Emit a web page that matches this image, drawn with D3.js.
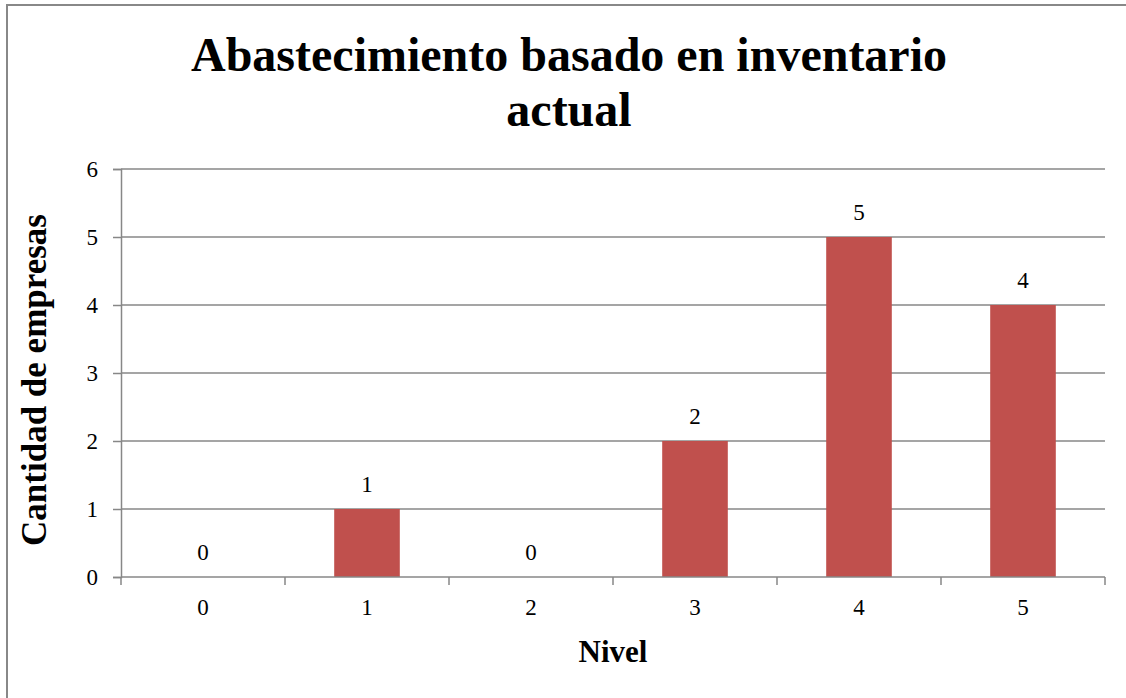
<!DOCTYPE html>
<html>
<head>
<meta charset="utf-8">
<script src="https://cdn.jsdelivr.net/npm/d3@7"></script>
<style>
  html, body { margin: 0; padding: 0; background: #fff; }
  svg { display: block; }
  svg text { font-family: 'Liberation Serif', 'Times New Roman', serif; fill: #000; }
</style>
</head>
<body>
<svg id="chart" width="1126" height="698"></svg>
<script>
// Chart data
const categories = ["0", "1", "2", "3", "4", "5"];
const empresas = [0, 1, 0, 2, 5, 4];
const yTicks = [0, 1, 2, 3, 4, 5, 6];
const titleLines = ["Abastecimiento basado en inventario", "actual"];
const xTitle = "Nivel";
const yTitle = "Cantidad de empresas";

const svg = d3.select("#chart");
const plot = { left: 121, right: 1105, top: 169, bottom: 577 };
const gridColor = "#878787";
const barColor = "#C0504D";
const serif = "'Liberation Serif', 'Times New Roman', serif";

// Outer chart frame
svg.append("rect")
  .attr("x", 7).attr("y", 5)
  .attr("width", 1124).attr("height", 700)
  .attr("fill", "#fff")
  .attr("stroke", "#888").attr("stroke-width", 2);

// Scales
const xBand = d3.scaleBand().domain(categories).range([plot.left, plot.right]).padding(0);
const xBar = d3.scaleBand().domain(categories).range([plot.left, plot.right])
  .paddingInner(0.6).paddingOuter(0.3);
const y = d3.scaleLinear().domain([0, 6]).range([plot.bottom, plot.top]);

// Horizontal gridlines
svg.append("g").selectAll("line").data(yTicks.filter(d => d > 0)).join("line")
  .attr("x1", plot.left).attr("x2", plot.right)
  .attr("y1", d => y(d)).attr("y2", d => y(d))
  .attr("stroke", gridColor).attr("stroke-width", 1.5);

// Bars
svg.append("g").selectAll("rect").data(categories).join("rect")
  .attr("x", c => xBar(c))
  .attr("width", xBar.bandwidth())
  .attr("y", (c, i) => y(empresas[i]))
  .attr("height", (c, i) => y(0) - y(empresas[i]))
  .attr("fill", barColor);

// Y axis
const yAxis = svg.append("g")
  .attr("transform", `translate(${plot.left},0)`)
  .call(d3.axisLeft(y).tickValues(yTicks).tickSize(8).tickPadding(15).tickFormat(d3.format("d")));
yAxis.attr("font-family", serif);
yAxis.select(".domain").attr("stroke", gridColor).attr("stroke-width", 1.5);
yAxis.selectAll(".tick line").attr("stroke", gridColor).attr("stroke-width", 1.5);
yAxis.selectAll(".tick text")
  .attr("font-size", 23).attr("fill", "#000")
  .attr("font-family", serif);

// X axis with ticks at category boundaries
const xAxis = svg.append("g")
  .attr("transform", `translate(0,${plot.bottom})`);
xAxis.append("line")
  .attr("x1", plot.left).attr("x2", plot.right)
  .attr("stroke", gridColor).attr("stroke-width", 1.5);
const boundaries = categories.map(c => xBand(c)).concat([plot.right]);
xAxis.selectAll("line.tick").data(boundaries).join("line")
  .attr("class", "tick")
  .attr("x1", d => d).attr("x2", d => d)
  .attr("y1", 0).attr("y2", 8)
  .attr("stroke", gridColor).attr("stroke-width", 1.5);
xAxis.selectAll("text").data(categories).join("text")
  .attr("x", c => xBand(c) + xBand.bandwidth() / 2)
  .attr("y", 38)
  .attr("text-anchor", "middle")
  .attr("font-family", serif)
  .attr("font-size", 23)
  .text(c => c);

// Value labels
svg.append("g").selectAll("text").data(categories).join("text")
  .attr("x", c => xBand(c) + xBand.bandwidth() / 2)
  .attr("y", (c, i) => y(empresas[i]) - 17)
  .attr("text-anchor", "middle")
  .attr("font-family", serif)
  .attr("font-size", 23)
  .text((c, i) => empresas[i]);

// Title
svg.append("text")
  .attr("text-anchor", "middle")
  .attr("font-family", serif)
  .attr("font-size", 48).attr("font-weight", "bold")
  .selectAll("tspan").data(titleLines).join("tspan")
  .attr("x", 569)
  .attr("y", (d, i) => 71 + i * 55)
  .text(d => d);

// Axis titles
svg.append("text")
  .attr("x", (plot.left + plot.right) / 2).attr("y", 662)
  .attr("text-anchor", "middle")
  .attr("font-family", serif)
  .attr("font-size", 31).attr("font-weight", "bold")
  .text(xTitle);

svg.append("text")
  .attr("transform", `translate(46,380) rotate(-90)`)
  .attr("text-anchor", "middle")
  .attr("font-family", serif)
  .attr("font-size", 35).attr("font-weight", "bold")
  .text(yTitle);
</script>
</body>
</html>
